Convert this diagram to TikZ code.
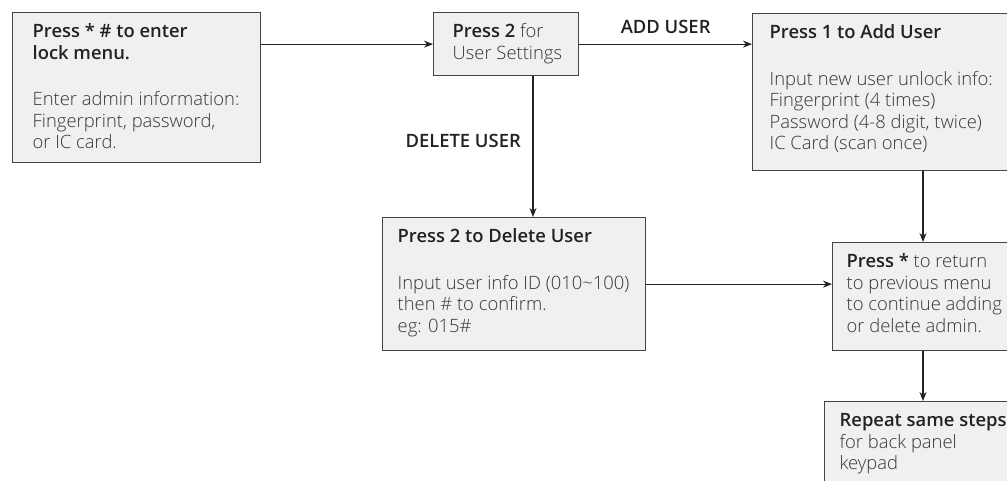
\documentclass[tikz,border=0pt]{standalone}
\usepackage{fontspec}
\IfFontExistsTF{Open Sans Light}{%
  \IfFontExistsTF{Open Sans Semibold}{%
    \setmainfont{Open Sans Light}[BoldFont={Open Sans Semibold}]}{%
    \setmainfont{Open Sans Light}[BoldFont={Open Sans}, BoldFeatures={FakeBold=1.6}]}}{%
  \setmainfont{Open Sans}}
\usetikzlibrary{arrows.meta,calc}
\definecolor{boxfill}{HTML}{F0F0F0}
\definecolor{boxline}{HTML}{444444}
\definecolor{headc}{HTML}{222222}
\definecolor{bodyc}{HTML}{363636}
\newcommand{\hd}[1]{{\bfseries\color{headc}#1}}
\newcommand{\boxtext}[3]{\parbox[t][#2][t]{#1}{\begin{tabular}[t]{@{}l@{}}#3\end{tabular}}}
\tikzset{
  flowbox/.style={draw=boxline, fill=boxfill, line width=1.3pt, anchor=north west,
    inner ysep=10pt, font=\fontsize{18.4}{21.5}\selectfont, text=bodyc},
  conn/.style={draw=headc, line width=1.2pt, -{Stealth[length=9pt,width=7pt]}},
  lbl/.style={font=\fontsize{18.4}{21.5}\selectfont\bfseries, text=headc, inner sep=0pt},
}
\begin{document}
\begin{tikzpicture}[x=1pt,y=-1pt]
\clip (0,0) rectangle (1007,481);
\fill[white] (0,0) rectangle (1007,481);

\node[flowbox, inner xsep=20pt] (b1) at (12,12)
  {\boxtext{208pt}{130pt}{\hd{Press * \# to enter}\\ \hd{lock menu.}\\[25pt]
   Enter admin information:\\ Fingerprint, password,\\ or IC card.}};

\node[flowbox, inner xsep=19pt] (b2) at (433,12)
  {\boxtext{107pt}{43pt}{\hd{Press 2} for\\ User Settings}};

\node[flowbox, inner xsep=17pt] (b3) at (752,13)
  {\boxtext{266pt}{137pt}{\hd{Press 1 to Add User}\\[25pt]
   Input new user unlock info:\\ Fingerprint (4 times)\\ Password (4-8 digit, twice)\\ IC Card (scan once)}};

\node[flowbox, inner xsep=15pt] (b4) at (382,217)
  {\boxtext{233pt}{113pt}{\hd{Press 2 to Delete User}\\[25pt]
   Input user info ID (010\textasciitilde100)\\ then \# to confirm.\\ eg: 015\#}};

\node[flowbox, inner xsep=14pt] (b5) at (832,242)
  {\boxtext{192pt}{88pt}{\hd{Press *} to return\\ to previous menu\\ to continue adding\\ or delete admin.}};

\node[flowbox, inner xsep=15pt] (b6) at (824,401)
  {\boxtext{200pt}{90pt}{\hd{Repeat same steps}\\ for back panel\\ keypad}};

% connectors
\draw[conn] (b1.east |- b2.west) -- (b2.west);
\draw[conn] (b2.east) -- (b2.east -| b3.west)
  node[lbl, midway, above=10pt] (addl) {ADD USER};
\coordinate (dtop) at ([xshift=100pt]b2.south west);
\draw[conn] (dtop) -- (dtop |- b4.north);
\node[lbl, anchor=east] (dell) at ([xshift=-12pt,yshift=-65pt]dtop) {DELETE USER};
\draw[conn] (b4.east) -- (b4.east -| b5.west);
\coordinate (rtop) at ([xshift=91pt]b5.north west);
\draw[conn] (rtop |- b3.south) -- (rtop);
\coordinate (rbot) at ([xshift=91pt]b5.south west);
\draw[conn] (rbot) -- (rbot |- b6.north);
\end{tikzpicture}
\end{document}
